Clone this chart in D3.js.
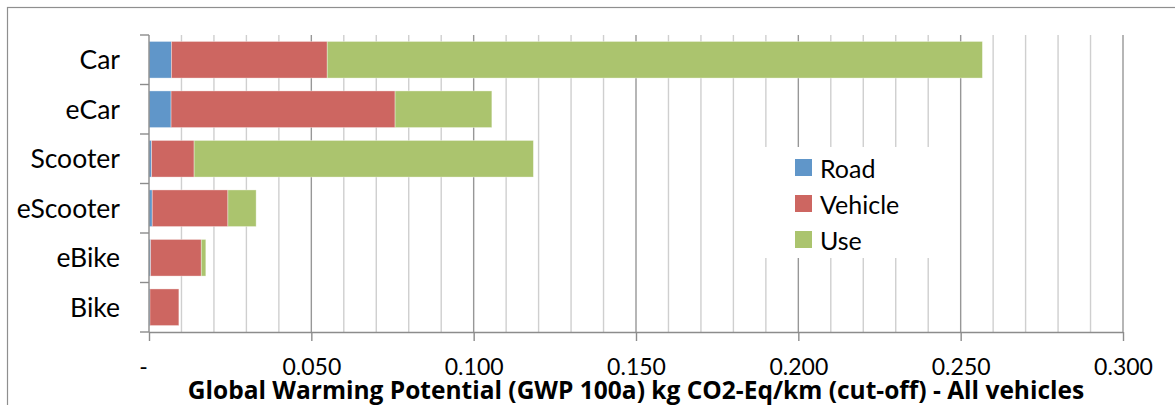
<!DOCTYPE html>
<html>
<head>
<meta charset="utf-8">
<script src="https://cdn.jsdelivr.net/npm/d3@7"></script>
<style>
  html, body { margin: 0; padding: 0; background: #fff; }
  svg { display: block; }
  text { font-family: Lato, "Open Sans", sans-serif; fill: #000; }
  text.axis-title { font-family: "Open Sans", sans-serif; font-weight: bold; }
</style>
</head>
<body>
<svg id="chart" width="1175" height="405"></svg>
<script>
// GWP per km, split by life-cycle stage
const categories = ["Car", "eCar", "Scooter", "eScooter", "eBike", "Bike"];
const road    = [0.0069, 0.0068, 0.0008, 0.0010, 0.0005, 0.0003];
const vehicle = [0.0480, 0.0690, 0.0131, 0.0233, 0.0156, 0.0089];
const use     = [0.2018, 0.0298, 0.1045, 0.0087, 0.0014, 0.0000];
const seriesNames = ["Road", "Vehicle", "Use"];
const seriesColors = ["#6096c9", "#cd6661", "#abc46e"];
const xTickValues = [0, 0.05, 0.10, 0.15, 0.20, 0.25, 0.30];
const xTitle = "Global Warming Potential (GWP 100a) kg CO2-Eq/km (cut-off) - All vehicles";

const rows = categories.map((c, i) => ({ cat: c, Road: road[i], Vehicle: vehicle[i], Use: use[i] }));
const stacked = d3.stack().keys(seriesNames)(rows);

const svg = d3.select("#chart");
const plot = { left: 149, right: 1123, top: 35, bottom: 332 };

// outer chart frame (runs past the right and bottom edges)
svg.append("rect")
  .attr("x", 7.5).attr("y", 7.5).attr("width", 1200).attr("height", 420)
  .attr("fill", "none").attr("stroke", "#8f8f8f").attr("stroke-width", 1.2);

const x = d3.scaleLinear().domain([0, 0.3]).range([plot.left, plot.right]);
const y = d3.scaleBand().domain(categories).range([plot.top, plot.bottom])
  .paddingInner(0.26).paddingOuter(0.13);

// vertical gridlines: minor every 0.01, major every 0.05
const minor = d3.range(1, 31).map(v => v / 100).filter(v => Math.round(v * 100) % 5 !== 0);
svg.append("g").selectAll("line").data(minor).join("line")
  .attr("x1", d => x(d)).attr("x2", d => x(d))
  .attr("y1", plot.top).attr("y2", plot.bottom)
  .attr("stroke", "#cfcfcf").attr("stroke-width", 1.4);
svg.append("g").selectAll("line").data(xTickValues.slice(1)).join("line")
  .attr("x1", d => x(d)).attr("x2", d => x(d))
  .attr("y1", plot.top).attr("y2", plot.bottom)
  .attr("stroke", "#979797").attr("stroke-width", 1.4);

// stacked bars
svg.append("g").selectAll("g").data(stacked).join("g")
  .attr("fill", (d, i) => seriesColors[i])
  .selectAll("rect").data(d => d).join("rect")
  .attr("x", d => x(d[0]))
  .attr("y", d => y(d.data.cat))
  .attr("width", d => Math.max(0, x(d[1]) - x(d[0])))
  .attr("height", y.bandwidth())
  .attr("stroke", "#ffffff").attr("stroke-opacity", 0.45).attr("stroke-width", 0.8);

// bottom axis
const xAxis = d3.axisBottom(x).tickValues(xTickValues).tickSize(9).tickPadding(18)
  .tickFormat(d => d === 0 ? "-" : d3.format(".3f")(d));
const gx = svg.append("g").attr("transform", `translate(0,${plot.bottom})`).call(xAxis);
gx.select(".domain").attr("stroke", "#8c8c8c").attr("stroke-width", 1.4).attr("d", `M${plot.left},0.5H${plot.right}`);
gx.selectAll(".tick line").attr("stroke", "#8c8c8c").attr("stroke-width", 1.4);
gx.selectAll(".tick text").attr("font-size", 23).attr("fill", "#000");
gx.selectAll(".tick text").filter(d => d === 0).attr("dx", -6);

// left axis: line plus ticks at the category boundaries
const boundaries = d3.range(categories.length + 1).map(i => plot.top + i * y.step());
svg.append("line")
  .attr("x1", plot.left).attr("x2", plot.left).attr("y1", plot.top).attr("y2", plot.bottom)
  .attr("stroke", "#8c8c8c").attr("stroke-width", 1.4);
svg.append("g").selectAll("line").data(boundaries).join("line")
  .attr("x1", plot.left - 9).attr("x2", plot.left)
  .attr("y1", d => d).attr("y2", d => d)
  .attr("stroke", "#8c8c8c").attr("stroke-width", 1.4);
svg.append("g").selectAll("text").data(categories).join("text")
  .attr("x", 120).attr("y", d => y(d) + y.bandwidth() / 2)
  .attr("dy", "0.36em").attr("text-anchor", "end").attr("font-size", 26.5)
  .text(d => d);

// axis title
svg.append("text")
  .attr("class", "axis-title")
  .attr("x", 636).attr("y", 399).attr("text-anchor", "middle")
  .attr("font-size", 24.5)
  .text(xTitle);

// legend with white backing
const lg = svg.append("g");
lg.append("rect").attr("x", 750).attr("y", 147).attr("width", 195).attr("height", 111).attr("fill", "#fff");
const item = lg.selectAll("g").data(seriesNames).join("g")
  .attr("transform", (d, i) => `translate(795,${159 + i * 36})`);
item.append("rect").attr("width", 17).attr("height", 17).attr("fill", (d, i) => seriesColors[i]);
item.append("text").attr("x", 25).attr("y", 19).attr("font-size", 25).text(d => d);
</script>
</body>
</html>
